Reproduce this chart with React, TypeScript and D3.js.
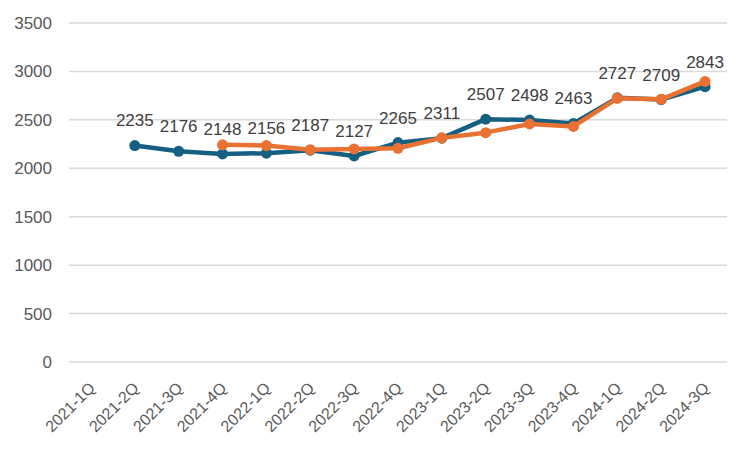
import React from "react";
import * as d3 from "d3";

const categories = [
  "2021-1Q", "2021-2Q", "2021-3Q", "2021-4Q",
  "2022-1Q", "2022-2Q", "2022-3Q", "2022-4Q",
  "2023-1Q", "2023-2Q", "2023-3Q", "2023-4Q",
  "2024-1Q", "2024-2Q", "2024-3Q",
];
const seriesBlue: (number | null)[] = [
  null, 2235, 2176, 2148, 2156, 2187, 2127, 2265, 2311, 2507, 2498, 2463, 2727, 2709, 2843,
];
const seriesOrange: (number | null)[] = [
  null, null, null, 2242, 2235, 2192, 2200, 2207, 2314, 2368, 2458, 2432, 2722, 2712, 2897,
];
const yTicks = [0, 500, 1000, 1500, 2000, 2500, 3000, 3500];

const W = 750;
const H = 450;
const left = 69;
const right = 727;
const top = 23;
const bottom = 362;
const FONT = "'Liberation Sans', Arial, sans-serif";

export default function App() {
  const x = d3.scaleBand<string>().domain(categories).range([left, right]);
  const y = d3.scaleLinear().domain([0, 3500]).range([bottom, top]);
  const cx = (c: string) => (x(c) as number) + x.bandwidth() / 2;

  const line = d3
    .line<{ c: string; v: number | null }>()
    .defined((d) => d.v !== null)
    .x((d) => cx(d.c))
    .y((d) => y(d.v as number));

  const blue = categories.map((c, i) => ({ c, v: seriesBlue[i] }));
  const orange = categories.map((c, i) => ({ c, v: seriesOrange[i] }));
  const BLUE = "#156082";
  const ORANGE = "#E97132";

  return (
    <svg width={W} height={H} style={{ position: "absolute", left: 0, top: 0 }}>
      <rect width={W} height={H} fill="#fff" />
      {yTicks.map((t) => (
        <g key={t}>
          <line x1={left} x2={right} y1={y(t)} y2={y(t)} stroke="#d9d9d9" strokeWidth={1.5} />
          <text
            x={52}
            y={y(t)}
            dy="0.35em"
            textAnchor="end"
            fontFamily={FONT}
            fontSize={17}
            fill="#595959"
          >
            {t}
          </text>
        </g>
      ))}
      {categories.map((c) => (
        <text
          key={c}
          transform={`translate(${cx(c) + 5},${bottom + 27}) rotate(-45)`}
          textAnchor="end"
          fontFamily={FONT}
          fontSize={16}
          fill="#595959"
        >
          {c}
        </text>
      ))}
      <path d={line(blue) || ""} fill="none" stroke={BLUE} strokeWidth={4.5} strokeLinejoin="round" />
      {blue.filter((d) => d.v !== null).map((d) => (
        <circle key={"b" + d.c} cx={cx(d.c)} cy={y(d.v as number)} r={5.5} fill={BLUE} />
      ))}
      <path d={line(orange) || ""} fill="none" stroke={ORANGE} strokeWidth={4.5} strokeLinejoin="round" />
      {orange.filter((d) => d.v !== null).map((d) => (
        <circle key={"o" + d.c} cx={cx(d.c)} cy={y(d.v as number)} r={5.5} fill={ORANGE} />
      ))}
      {blue.filter((d) => d.v !== null).map((d) => (
        <text
          key={"l" + d.c}
          x={cx(d.c)}
          y={y(d.v as number) - 25}
          dy="0.35em"
          textAnchor="middle"
          fontFamily={FONT}
          fontSize={17}
          fill="#404040"
        >
          {d.v}
        </text>
      ))}
    </svg>
  );
}
